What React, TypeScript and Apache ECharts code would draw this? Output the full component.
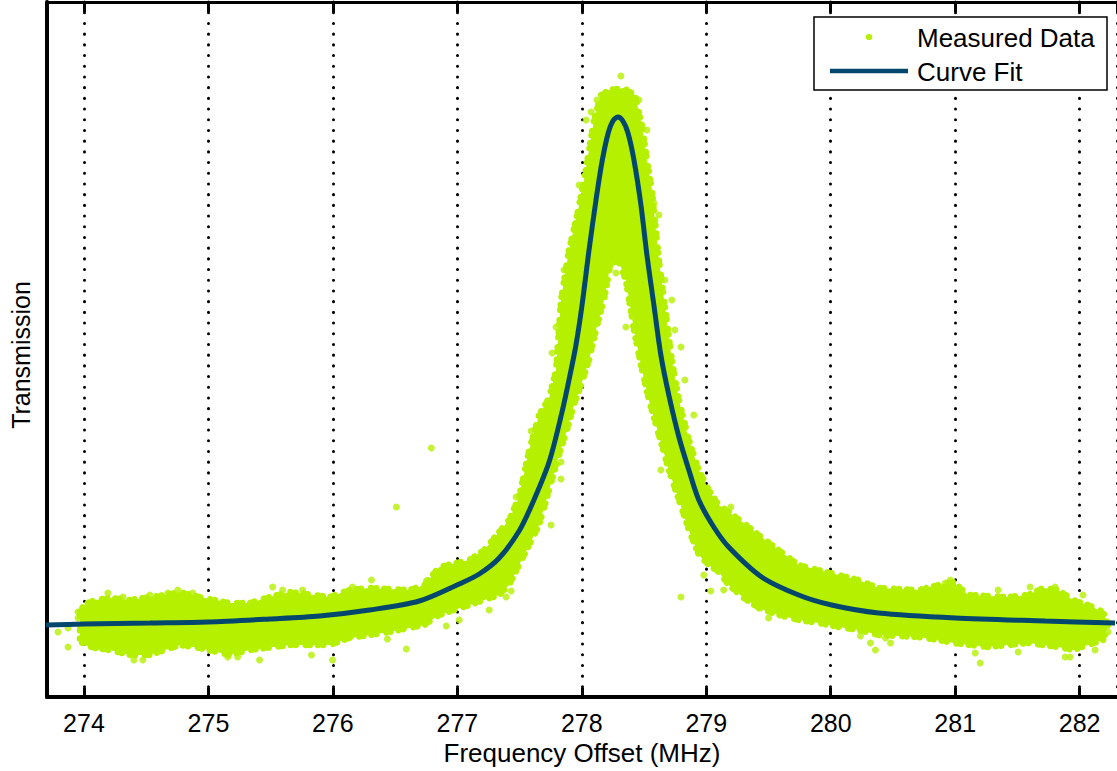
import React, { useEffect, useRef } from "react";
import * as echarts from "echarts";

// ---- Data ----
const X_MIN = 273.703;
const X_MAX = 282.3;
const Y_MIN = 0;
const Y_MAX = 0.695;

// Curve fit (MHz, transmission a.u.)
const fitCurve: number[][] = [
  [273.695, 0.072], [274.0, 0.073], [274.529, 0.074], [274.994, 0.075], [275.492, 0.078],
  [275.893, 0.081], [276.294, 0.087], [276.694, 0.096], [277.015, 0.113], [277.176, 0.123],
  [277.336, 0.139], [277.496, 0.166], [277.601, 0.193], [277.737, 0.235], [277.841, 0.285],
  [277.897, 0.317], [277.953, 0.352], [278.002, 0.392], [278.058, 0.447], [278.114, 0.497],
  [278.162, 0.535], [278.21, 0.563], [278.25, 0.576], [278.29, 0.58], [278.33, 0.576],
  [278.371, 0.564], [278.419, 0.537], [278.475, 0.492], [278.523, 0.442], [278.579, 0.392],
  [278.635, 0.342], [278.699, 0.302], [278.78, 0.26], [278.86, 0.227], [278.94, 0.197],
  [279.06, 0.17], [279.18, 0.15], [279.445, 0.12], [279.742, 0.102], [280.006, 0.092],
  [280.383, 0.084], [281.001, 0.079], [281.723, 0.076], [282.284, 0.074],
];

// Dense cloud of measured points: upper envelope (left -> right)
const measuredUpper: number[][] = [
  [273.968, 0.085], [274.0, 0.092], [274.088, 0.097], [274.208, 0.099], [274.369, 0.097],
  [274.65, 0.102], [274.77, 0.105], [274.93, 0.1], [275.171, 0.094], [275.331, 0.094],
  [275.492, 0.1], [275.652, 0.105], [275.973, 0.1], [276.133, 0.107], [276.294, 0.109],
  [276.614, 0.107], [276.735, 0.112], [276.855, 0.13], [277.095, 0.137], [277.216, 0.147],
  [277.336, 0.165], [277.416, 0.177], [277.496, 0.2], [277.577, 0.247], [277.657, 0.282],
  [277.737, 0.299], [277.793, 0.327], [277.833, 0.397], [277.897, 0.447], [277.962, 0.482],
  [278.018, 0.517], [278.058, 0.547], [278.098, 0.577], [278.154, 0.602], [278.218, 0.607],
  [278.338, 0.609], [278.427, 0.602], [278.483, 0.572], [278.523, 0.537], [278.563, 0.507],
  [278.619, 0.437], [278.723, 0.337], [278.78, 0.297], [278.86, 0.257], [278.94, 0.227],
  [279.02, 0.207], [279.1, 0.192], [279.18, 0.185], [279.301, 0.174], [279.421, 0.162],
  [279.581, 0.147], [279.742, 0.132], [279.902, 0.127], [280.063, 0.122], [280.223, 0.117],
  [280.383, 0.109], [280.704, 0.107], [280.864, 0.112], [280.985, 0.115], [281.105, 0.102],
  [281.426, 0.1], [281.586, 0.102], [281.707, 0.109], [281.827, 0.107], [281.947, 0.097],
  [282.067, 0.092], [282.188, 0.085], [282.228, 0.072],
];

// Dense cloud of measured points: lower envelope (left -> right)
const measuredLower: number[][] = [
  [273.968, 0.057], [274.0, 0.052], [274.088, 0.049], [274.208, 0.047], [274.369, 0.042],
  [274.529, 0.042], [274.77, 0.052], [274.93, 0.049], [275.171, 0.042], [275.331, 0.047],
  [275.652, 0.052], [275.973, 0.052], [276.133, 0.059], [276.294, 0.062], [276.454, 0.065],
  [276.614, 0.069], [276.735, 0.072], [276.855, 0.082], [277.095, 0.092], [277.216, 0.097],
  [277.336, 0.102], [277.416, 0.112], [277.496, 0.132], [277.577, 0.152], [277.657, 0.172],
  [277.737, 0.207], [277.817, 0.242], [277.881, 0.267], [277.937, 0.292], [277.994, 0.312],
  [278.058, 0.337], [278.114, 0.367], [278.178, 0.397], [278.234, 0.435], [278.298, 0.435],
  [278.354, 0.417], [278.419, 0.367], [278.475, 0.332], [278.539, 0.297], [278.619, 0.262],
  [278.699, 0.227], [278.78, 0.197], [278.86, 0.167], [278.94, 0.142], [279.02, 0.132],
  [279.1, 0.125], [279.18, 0.112], [279.301, 0.099], [279.421, 0.089], [279.581, 0.082],
  [279.742, 0.077], [279.902, 0.074], [280.063, 0.07], [280.223, 0.067], [280.383, 0.062],
  [280.704, 0.06], [280.864, 0.057], [280.985, 0.054], [281.265, 0.05], [281.586, 0.054],
  [281.827, 0.05], [281.947, 0.047], [282.067, 0.052], [282.188, 0.057], [282.228, 0.072],
];

// Individual measured points scattered around the dense cloud
const measuredPoints: number[][] = [
  [273.792, 0.065], [273.872, 0.069], [273.872, 0.05], [273.952, 0.085], [273.952, 0.079],
  [274.032, 0.094], [274.12, 0.05], [274.192, 0.104], [274.313, 0.1], [274.401, 0.037],
  [274.473, 0.037], [274.674, 0.104], [274.754, 0.107], [274.874, 0.104], [275.155, 0.04],
  [275.235, 0.04], [275.516, 0.11], [275.596, 0.107], [275.756, 0.107], [275.997, 0.037],
  [276.149, 0.061], [276.157, 0.11], [276.31, 0.117], [276.438, 0.058], [276.51, 0.19],
  [276.59, 0.048], [276.751, 0.116], [276.791, 0.249], [276.911, 0.071], [277.392, 0.1],
  [277.432, 0.106], [277.472, 0.2], [277.593, 0.266], [277.753, 0.172], [277.761, 0.344],
  [277.793, 0.37], [277.833, 0.235], [277.833, 0.218], [277.953, 0.474], [278.002, 0.477],
  [278.034, 0.577], [278.234, 0.437], [278.274, 0.424], [278.314, 0.621], [278.354, 0.37],
  [278.579, 0.494], [278.603, 0.437], [278.723, 0.397], [278.796, 0.35], [278.635, 0.227],
  [278.796, 0.1], [279.036, 0.106], [279.197, 0.19], [279.237, 0.113], [279.317, 0.103],
  [279.357, 0.165], [279.437, 0.089], [279.517, 0.15], [279.678, 0.137], [280.239, 0.061],
  [280.319, 0.054], [280.359, 0.047], [280.44, 0.059], [280.48, 0.054], [280.921, 0.114],
  [280.961, 0.117], [281.161, 0.044], [281.201, 0.034], [281.602, 0.11], [281.803, 0.11],
  [281.883, 0.04], [281.923, 0.04], [282.124, 0.047], [282.228, 0.065],
  [277.857, 0.427], [277.937, 0.467], [277.978, 0.512], [278.074, 0.585], [278.122, 0.597],
  [278.459, 0.597], [278.523, 0.567], [278.619, 0.482], [278.667, 0.417], [278.747, 0.367],
  [278.828, 0.317], [278.9, 0.282], [278.98, 0.122], [279.14, 0.107], [279.501, 0.079],
  [274.529, 0.102], [275.411, 0.037], [275.828, 0.042], [277.015, 0.077], [277.256, 0.087],
  [281.345, 0.107], [282.027, 0.102], [281.506, 0.045],
];

const legendLabels = ["Measured Data", "Curve Fit"];
const xTitle = "Frequency Offset (MHz)";
const yTitle = "Transmission";

const GREEN = "#b4f000";
const BLUE = "#03476e";
const FONT = "'Liberation Sans', Arial, Helvetica, sans-serif";

export default function App() {
  const ref = useRef<HTMLDivElement>(null);

  useEffect(() => {
    if (!ref.current) return;
    const chart = echarts.init(ref.current, null, { renderer: "svg" });

    const option: any = {
      animation: false,
      backgroundColor: "#ffffff",
      grid: { left: 47, right: -2, top: 2, bottom: 74, containLabel: false },
      xAxis: [
        {
          type: "value",
          position: "bottom",
          min: X_MIN,
          max: X_MAX,
          splitNumber: 8,
          axisLine: { show: true, onZero: false, lineStyle: { color: "#000", width: 4 } },
          axisTick: { show: true, inside: true, length: 9, lineStyle: { color: "#000", width: 3 } },
          axisLabel: {
            show: true,
            margin: 13,
            fontSize: 25,
            color: "#000",
            fontFamily: FONT,
            showMinLabel: false,
            showMaxLabel: false,
          },
          splitLine: {
            show: true,
            lineStyle: { color: "#000", width: 3, type: [0.1, 10.6], cap: "round" },
          },
          name: xTitle,
          nameLocation: "middle",
          nameGap: 40,
          nameTextStyle: { fontSize: 26, color: "#000", fontFamily: FONT },
        },
        {
          type: "value",
          position: "top",
          min: X_MIN,
          max: X_MAX,
          splitNumber: 8,
          axisLine: { show: true, onZero: false, lineStyle: { color: "#000", width: 3 } },
          axisTick: { show: true, inside: true, length: 10, lineStyle: { color: "#000", width: 3 } },
          axisLabel: { show: false },
          splitLine: { show: false },
        },
      ],
      yAxis: {
        type: "value",
        min: Y_MIN,
        max: Y_MAX,
        axisLine: { show: true, onZero: false, lineStyle: { color: "#000", width: 4 } },
        axisTick: { show: false },
        axisLabel: { show: false },
        splitLine: { show: false },
      },
      series: [
        {
          type: "custom",
          name: legendLabels[0] + " cloud",
          coordinateSystem: "cartesian2d",
          xAxisIndex: 0,
          yAxisIndex: 0,
          silent: true,
          z: 2,
          data: [measuredUpper[0]],
          renderItem: (_params: any, api: any) => {
            const top = measuredUpper.map((p) => api.coord(p));
            const bottom = measuredLower.slice().reverse().map((p) => api.coord(p));
            return {
              type: "polygon",
              shape: { points: top.concat(bottom) },
              style: {
                fill: GREEN,
                stroke: GREEN,
                lineWidth: 6.5,
                lineDash: [0.1, 5, 0.1, 8, 0.1, 4, 0.1, 10],
                lineCap: "round",
                lineJoin: "round",
              },
            };
          },
        },
        {
          type: "scatter",
          name: legendLabels[0],
          xAxisIndex: 0,
          yAxisIndex: 0,
          data: measuredPoints,
          symbol: "circle",
          symbolSize: 7,
          itemStyle: { color: GREEN },
          silent: true,
          z: 3,
        },
        {
          type: "line",
          name: legendLabels[1],
          xAxisIndex: 0,
          yAxisIndex: 0,
          data: fitCurve,
          smooth: 0.3,
          showSymbol: false,
          symbol: "none",
          lineStyle: { color: BLUE, width: 5 },
          silent: true,
          z: 4,
        },
      ],
      graphic: [
        {
          type: "rect",
          shape: { x: 814, y: 17, width: 293, height: 73 },
          style: { fill: "#fff", stroke: "#000", lineWidth: 1.5 },
          z: 10,
        },
        {
          type: "circle",
          shape: { cx: 869, cy: 37, r: 3.3 },
          style: { fill: GREEN },
          z: 11,
        },
        {
          type: "line",
          shape: { x1: 830, y1: 71, x2: 908, y2: 71 },
          style: { stroke: BLUE, lineWidth: 4.5 },
          z: 11,
        },
        {
          type: "text",
          x: 917,
          y: 38,
          style: {
            text: legendLabels[0],
            fontSize: 26,
            fontFamily: FONT,
            fill: "#000",
            align: "left",
            verticalAlign: "middle",
          },
          z: 11,
        },
        {
          type: "text",
          x: 917,
          y: 72,
          style: {
            text: legendLabels[1],
            fontSize: 26,
            fontFamily: FONT,
            fill: "#000",
            align: "left",
            verticalAlign: "middle",
          },
          z: 11,
        },
        {
          type: "text",
          x: 21,
          y: 355,
          rotation: Math.PI / 2,
          style: {
            text: yTitle,
            fontSize: 25,
            fontFamily: FONT,
            fill: "#000",
            align: "center",
            verticalAlign: "middle",
          },
          z: 11,
        },
      ],
    };

    chart.setOption(option);
    return () => chart.dispose();
  }, []);

  return (
    <div
      ref={ref}
      style={{ position: "absolute", left: 0, top: 0, width: 1117, height: 771, background: "#fff" }}
    />
  );
}
